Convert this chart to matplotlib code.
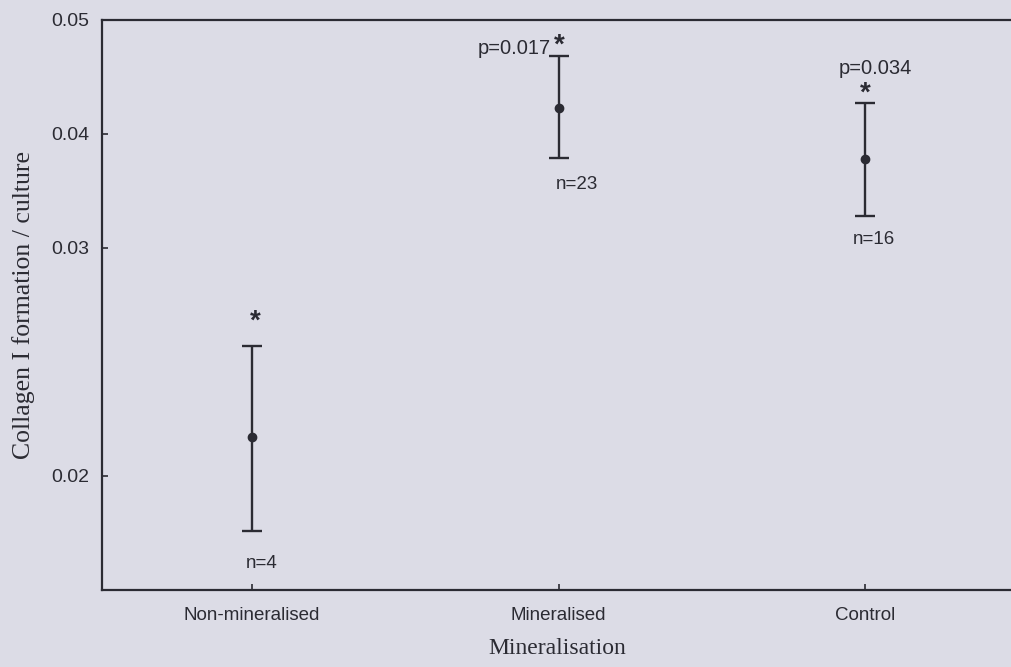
import numpy as np
import matplotlib
matplotlib.use("Agg")
import matplotlib.pyplot as plt

# group labels and values
groups = ["Non-mineralised", "Mineralised", "Control"]
means = [0.0217, 0.0423, 0.0378]
lower = [0.0176, 0.0379, 0.0328]
upper = [0.0257, 0.0468, 0.0427]
n_labels = ["n=4", "n=23", "n=16"]
p_labels = ["", "p=0.017", "p=0.034"]
yticks = [0.02, 0.03, 0.04, 0.05]

# the original y axis is not evenly spaced: 0.02-0.03 takes twice the room
anchor_v = [0.01, 0.02, 0.03, 0.04, 0.05, 0.06]
anchor_f = [-0.2, 0.2, 0.6, 0.8, 1.0, 1.2]

def fwd(v):
    return np.interp(v, anchor_v, anchor_f)

def inv(f):
    return np.interp(f, anchor_f, anchor_v)

bg = '#dcdce6'
ink = '#2b2b33'

fig = plt.figure(figsize=(10.12, 6.67), dpi=100, facecolor=bg)
ax = fig.add_axes([102/1012, 1-590/667, 1-102/1012, 570/667])
ax.set_facecolor(bg)
ax.set_yscale('function', functions=(fwd, inv))
ax.set_ylim(0.015, 0.05)
ax.set_xlim(-0.49, 2.48)

x = np.arange(len(groups))
m = np.array(means)
yerr = [m - np.array(lower), np.array(upper) - m]
ax.errorbar(x, m, yerr=yerr, fmt='o', color=ink, ecolor=ink, ms=6,
            elinewidth=1.7, capsize=7, capthick=1.7)

# stars, p-values and n labels placed relative to the bars
star_off = [(3, 24), (1, 11), (0, 10)]
n_off = [(10, -33), (18, -27), (9, -23)]
p_off = [(0, 0), (-8, 8), (10, 35)]
for i in range(len(groups)):
    ax.annotate('*', (x[i], upper[i]), xytext=star_off[i], textcoords='offset pixels',
                ha='center', va='center', fontsize=20, fontweight='bold',
                color=ink, family='Liberation Sans')
    ax.annotate(n_labels[i], (x[i], lower[i]), xytext=n_off[i], textcoords='offset pixels',
                ha='center', va='center', fontsize=13.5, color=ink, family='Liberation Sans')
    if p_labels[i]:
        ha = 'right' if i == 1 else 'center'
        ax.annotate(p_labels[i], (x[i], upper[i]), xytext=p_off[i], textcoords='offset pixels',
                    ha=ha, va='center', fontsize=14.5, color=ink, family='Liberation Sans')

ax.set_xticks(x)
ax.set_xticklabels(groups)
ax.set_yticks(yticks)
ax.set_yticklabels([f"{t:.2f}" for t in yticks])
ax.minorticks_off()
ax.tick_params(direction='in', length=4, width=1.2, color=ink, labelsize=14,
               labelcolor=ink, pad=9)
ax.tick_params(axis='x', pad=12, labelsize=13.5)
for lab in ax.get_xticklabels() + ax.get_yticklabels():
    lab.set_family('Liberation Sans')

for s in ['left', 'top', 'bottom']:
    ax.spines[s].set_color(ink)
    ax.spines[s].set_linewidth(1.6)
ax.spines['right'].set_visible(False)

ax.set_xlabel('Mineralisation', family='Liberation Serif', fontsize=17, color=ink, labelpad=10)
ax.set_ylabel('Collagen I formation / culture', family='Liberation Serif', fontsize=18.5,
              color=ink, labelpad=12)

fig.savefig('out.png', dpi=100, facecolor=bg)
